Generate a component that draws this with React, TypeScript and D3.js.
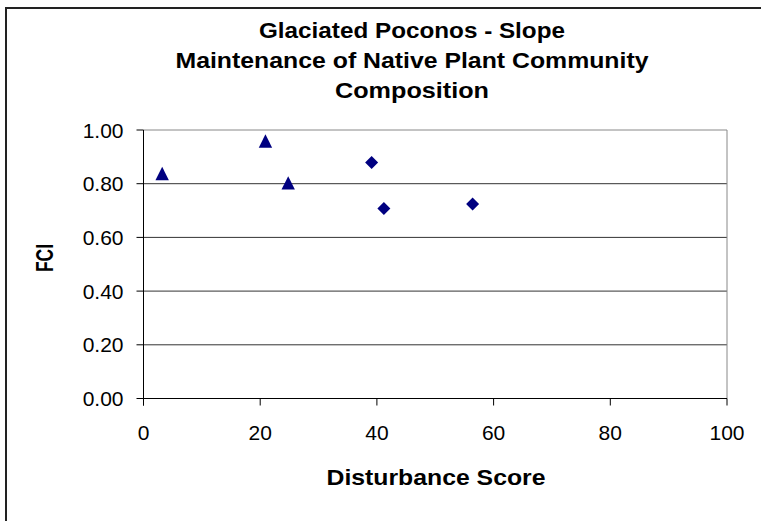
import React from "react";
import * as d3 from "d3";

const titleLines = ["Glaciated Poconos - Slope", "Maintenance of Native Plant Community", "Composition"];
const titleWidths = [306, 473, 154];
const xTicks = [0, 20, 40, 60, 80, 100];
const yTicks = [0, 0.2, 0.4, 0.6, 0.8, 1.0];
const triangleX = [3.2, 20.9, 24.8];
const triangleY = [0.838, 0.959, 0.803];
const diamondX = [39.1, 41.2, 56.4];
const diamondY = [0.879, 0.708, 0.724];

const boxTriangle = {
  draw(ctx: any, size: number) {
    const r = Math.sqrt(size) / 2;
    ctx.moveTo(0, -r);
    ctx.lineTo(r, r);
    ctx.lineTo(-r, r);
    ctx.closePath();
  },
};
const boxDiamond = {
  draw(ctx: any, size: number) {
    const r = Math.sqrt(size) / 2;
    ctx.moveTo(0, -r);
    ctx.lineTo(r, 0);
    ctx.lineTo(0, r);
    ctx.lineTo(-r, 0);
    ctx.closePath();
  },
};

export default function App() {
  const W = 761, H = 521;
  const x = d3.scaleLinear().domain([0, 100]).range([143.5, 727]);
  const y = d3.scaleLinear().domain([0, 1]).range([398.5, 130]);
  const tri = d3.symbol().type(boxTriangle as any).size(13.4 * 13.4)()!;
  const dia = d3.symbol().type(boxDiamond as any).size(13 * 13)()!;
  const font = "'Liberation Sans', Arial, sans-serif";
  return (
    <svg width={W} height={H} style={{ position: "absolute", left: 0, top: 0, background: "#fff" }}>
      <rect x={0} y={0} width={W} height={H} fill="#fff" />
      <path d={`M6,${H + 5} L6,8 L${W + 5},8`} fill="none" stroke="#222" strokeWidth={2} />
      {titleLines.map((t, i) => (
        <text key={i} x={412} y={38 + i * 30} textAnchor="middle" fontFamily={font} fontWeight="bold" fontSize={21.5}
          textLength={titleWidths[i]} lengthAdjust="spacingAndGlyphs" fill="#000">{t}</text>
      ))}
      {yTicks.map((v) => (
        <g key={v}>
          <line x1={x(0)} x2={x(100)} y1={y(v)} y2={y(v)} stroke={v === 1 ? "#888" : v === 0 ? "#555" : "#333"} strokeWidth={1} />
          <line x1={x(0) - 7} x2={x(0)} y1={y(v)} y2={y(v)} stroke="#000" />
          <text x={123.5} y={y(v) + 7.5} textAnchor="end" fontFamily={font} fontSize={21} fill="#000">{v.toFixed(2)}</text>
        </g>
      ))}
      <line x1={x(100)} x2={x(100)} y1={y(1)} y2={y(0)} stroke="#888" />
      <line x1={x(0)} x2={x(0)} y1={y(1)} y2={y(0) + 7} stroke="#000" />
      <line x1={x(0)} x2={x(100)} y1={y(0)} y2={y(0)} stroke="#000" />
      {xTicks.map((v) => (
        <g key={v}>
          <line x1={x(v)} x2={x(v)} y1={y(0)} y2={y(0) + 7} stroke="#000" />
          <text x={x(v)} y={440} textAnchor="middle" fontFamily={font} fontSize={21} fill="#000">{v}</text>
        </g>
      ))}
      <text x={436} y={485} textAnchor="middle" fontFamily={font} fontWeight="bold" fontSize={21.5}
        textLength={219} lengthAdjust="spacingAndGlyphs" fill="#000">Disturbance Score</text>
      <text transform={`translate(53,258) rotate(-90)`} textAnchor="middle" fontFamily={font} fontWeight="bold" fontSize={24}
        textLength={28} lengthAdjust="spacingAndGlyphs" fill="#000">FCI</text>
      {triangleX.map((v, i) => (
        <path key={"t" + i} d={tri} transform={`translate(${x(v)},${y(triangleY[i])})`} fill="#000080" />
      ))}
      {diamondX.map((v, i) => (
        <path key={"d" + i} d={dia} transform={`translate(${x(v)},${y(diamondY[i])})`} fill="#000080" />
      ))}
    </svg>
  );
}
